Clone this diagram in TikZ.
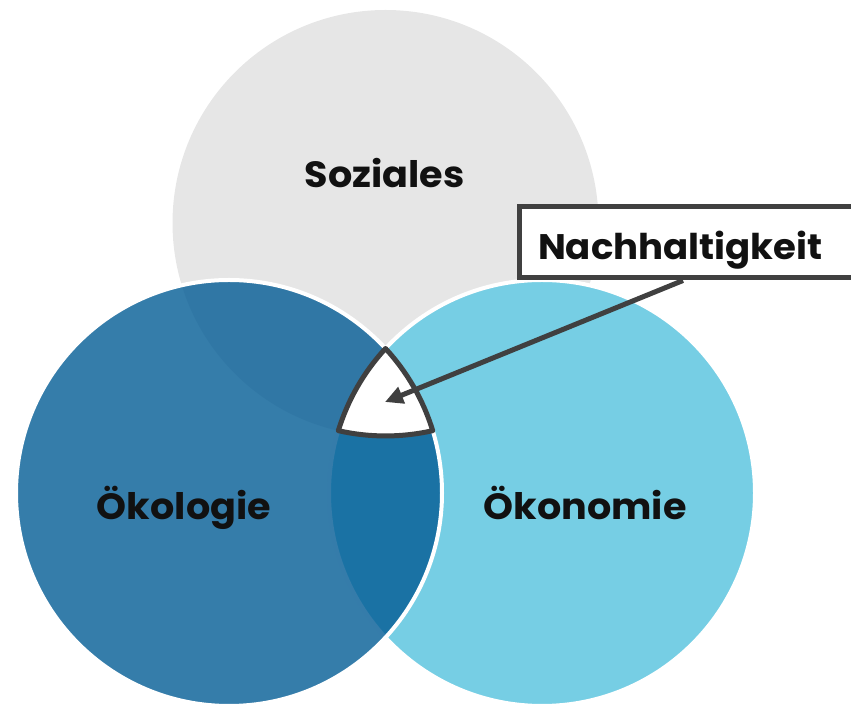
\documentclass[tikz,border=0pt]{standalone}
\usepackage{fontspec}
\usepackage{graphicx}
\setmainfont{Poppins}
\usetikzlibrary{arrows.meta}
\definecolor{grayc}{HTML}{E6E6E6}
\definecolor{lightb}{HTML}{76CEE4}
\definecolor{darkb}{HTML}{035C95}
\definecolor{edgec}{HTML}{404040}
\definecolor{textc}{HTML}{111111}
\newcommand{\wide}[1]{\scalebox{1.045}[1]{#1}}
\begin{document}
\begin{tikzpicture}[x=1pt,y=1pt,
  lbl/.style={font=\bfseries\fontsize{36.5}{40}\selectfont, text=textc, anchor=base, inner sep=0},
  tagbox/.style={draw=edgec, line width=5, fill=white, font=\bfseries\fontsize{35.5}{40}\selectfont, text=textc,
     anchor=north west, minimum height=71, text width=340, align=left, inner xsep=19, inner ysep=0,
     text height=33.5, text depth=0},
  pointer/.style={draw=edgec, line width=5, -{Triangle[length=18,width=17]}}]
\useasboundingbox (0,0) rectangle (851,706);
\clip (0,0) rectangle (851,706);
% circles
\fill[grayc] (385.5,483) circle[radius=213];
\filldraw[fill=lightb, draw=white, line width=4] (542,213) circle[radius=213];
\filldraw[fill=darkb, fill opacity=0.8, draw=white, line width=4] (229,213) circle[radius=213];
% common intersection
\filldraw[fill=white, draw=edgec, line width=5, line join=round]
  (385.5,357.49) arc[start angle=137.29, end angle=162.99, radius=213]
  arc[start angle=257.20, end angle=282.80, radius=213]
  arc[start angle=17.01, end angle=42.71, radius=213] -- cycle;
% labels
\node[lbl] (soz) at (384.5,518) {\wide{Soziales}};
\node[lbl] (oek) at (184,186) {\wide{Ökologie}};
\node[lbl] (oko) at (585,186) {\wide{Ökonomie}};
% callout
\coordinate (tip) at (385,304);
\node[tagbox] (nh) at (516.5,501.5) {\wide{Nachhaltigkeit}};
\draw[pointer] ([xshift=166.5]nh.south west) -- (tip);
\end{tikzpicture}
\end{document}
